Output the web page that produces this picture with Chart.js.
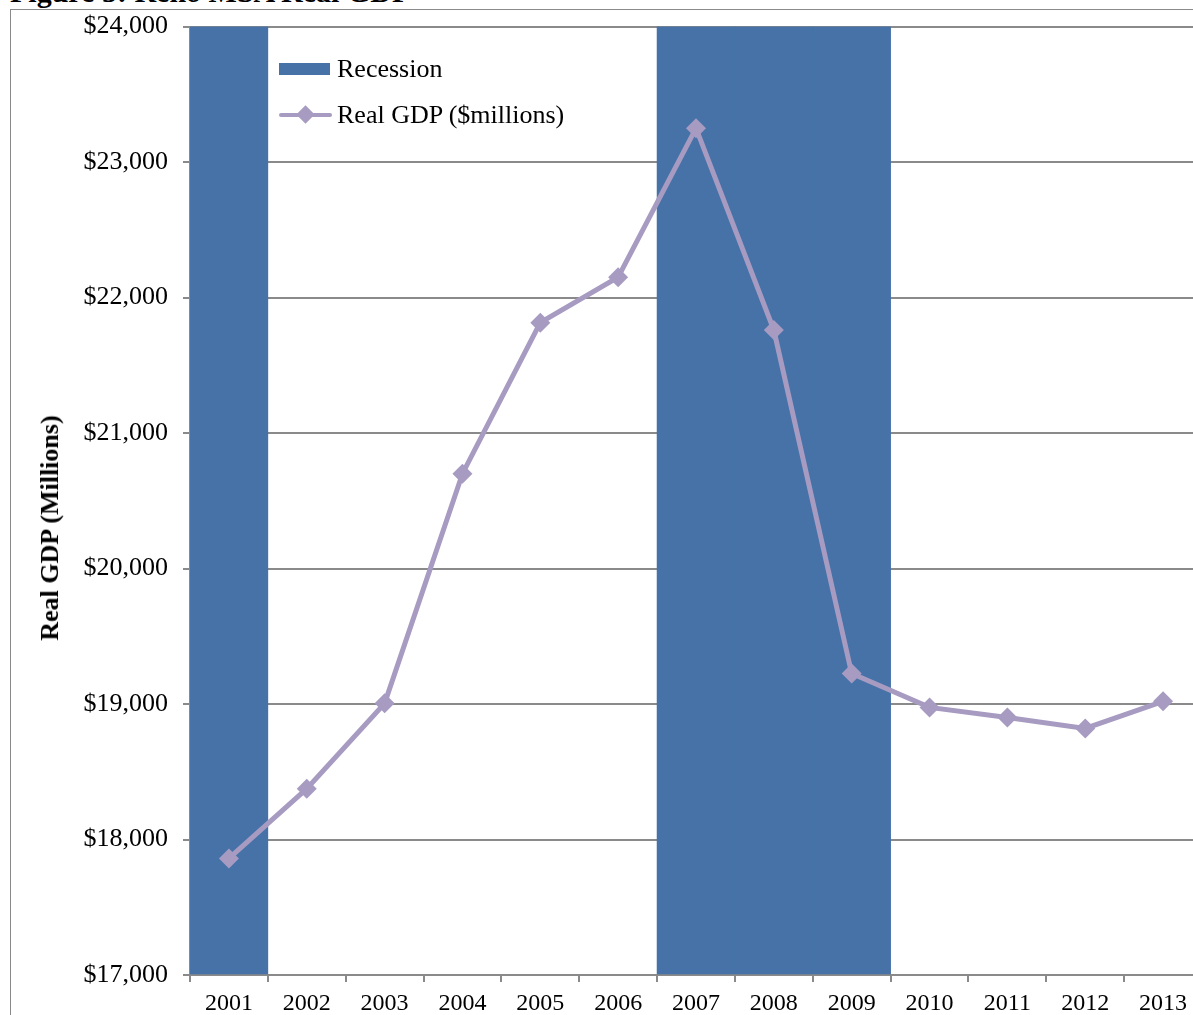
<!DOCTYPE html>
<html>
<head>
<meta charset="utf-8">
<script src="https://cdn.jsdelivr.net/npm/chart.js@4/dist/chart.umd.min.js"></script>
<style>
  html, body { margin:0; padding:0; background:#fff; overflow:hidden; }
  #wrap { position:relative; width:1193px; height:1015px; overflow:hidden; }
  #frame { position:absolute; left:10px; top:9px; width:1300px; height:1100px;
           border-left:1px solid #8a8a8a; border-top:1px solid #8a8a8a; }
  #fig-title { position:absolute; left:10px; top:-23px; font:bold 30px/30px "Liberation Serif","Times New Roman",serif;
               color:#000; white-space:nowrap; }
  #ytitle { position:absolute; left:50px; top:528px; transform:translate(-50%,-50%) rotate(-90deg);
            font:bold 26px "Liberation Serif","Times New Roman",serif; color:#000; white-space:nowrap; }
  #gdp-chart { position:absolute; left:0; top:-4px; }
  #legend { position:absolute; left:279px; top:46px; font:26px "Liberation Serif","Times New Roman",serif; color:#000; }
  .leg-row { height:46px; display:flex; align-items:center; white-space:nowrap; }
  .leg-sym { width:58px; height:46px; position:relative; flex:none; }
</style>
</head>
<body>
<div id="wrap">
  <div id="fig-title">Figure 5: Reno MSA Real GDP</div>
  <div id="frame"></div>
  <canvas id="gdp-chart" width="1212" height="1019"></canvas>
  <div id="ytitle">Real GDP (Millions)</div>
  <div id="legend"></div>
</div>
<script>
//----- chart data -----//
const years          = ['2001','2002','2003','2004','2005','2006','2007','2008','2009','2010','2011','2012','2013'];
const recessionBars  = [24000, null, null, null, null, null, 24000, 24000, 24000, null, null, null, null];
const realGdp        = [17860, 18375, 19005, 20700, 21815, 22150, 23250, 21760, 19225, 18975, 18900, 18820, 19020];
const recessionLabel = 'Recession';
const gdpLabel       = 'Real GDP ($millions)';

//----- colors -----//
const barColor  = '#4672a7';
const lineColor = '#a79bc2';
const gridColor = '#8a8a8a';

const serif = '"Liberation Serif", "Times New Roman", serif';

let canvas = document.getElementById('gdp-chart');

let gdpChart = new Chart(canvas, {
  type: 'bar',
  data: {
    labels: years,
    datasets: [
      {
        type: 'line',
        label: gdpLabel,
        data: realGdp,
        borderColor: lineColor,
        backgroundColor: lineColor,
        borderWidth: 5,
        tension: 0,
        pointStyle: 'rectRot',
        pointRadius: 10,
        pointBorderWidth: 0,
        pointBackgroundColor: lineColor,
        order: 0
      },
      {
        type: 'bar',
        label: recessionLabel,
        data: recessionBars,
        backgroundColor: barColor,
        borderWidth: 0,
        barPercentage: 1.0,
        categoryPercentage: 1.0,
        base: 17000,
        order: 1
      }
    ]
  },
  options: {
    responsive: false,
    animation: false,
    devicePixelRatio: 1,
    layout: { padding: { top: 22, right: 0, bottom: 0, left: 0 } },
    plugins: {
      legend: { display: false },
      tooltip: { enabled: false },
      title: { display: false }
    },
    scales: {
      x: {
        offset: true,
        grid: { offset: true, drawOnChartArea: false, drawTicks: true, tickLength: 7, color: gridColor, lineWidth: 2 },
        border: { display: true, color: gridColor, width: 2 },
        ticks: { color: '#000', padding: 7, maxRotation: 0, font: { family: serif, size: 24 } },
        afterFit: function(scale){ scale.height = 40; }
      },
      y: {
        min: 17000,
        max: 24000,
        grid: { color: gridColor, lineWidth: 2, tickLength: 7 },
        border: { display: true, color: gridColor, width: 2 },
        ticks: {
          stepSize: 1000,
          color: '#000',
          padding: 15,
          font: { family: serif, size: 26 },
          callback: function(v){ return '$' + Number(v).toLocaleString('en-US'); }
        },
        afterFit: function(scale){ scale.width = 190; }
      }
    }
  }
});

//----- html legend (inside the plot, top-left) -----//
let legendDiv = document.getElementById('legend');
let rows = '';
rows += '<div class="leg-row"><div class="leg-sym">'
      + '<div style="position:absolute;left:0;top:17px;width:51px;height:12px;background:'+barColor+'"></div>'
      + '</div><span>'+recessionLabel+'</span></div>';
rows += '<div class="leg-row"><div class="leg-sym">'
      + '<div style="position:absolute;left:0;top:21px;width:53px;height:4px;background:'+lineColor+';border-radius:2px"></div>'
      + '<div style="position:absolute;left:20px;top:16px;width:13px;height:13px;background:'+lineColor+';transform:rotate(45deg)"></div>'
      + '</div><span>'+gdpLabel+'</span></div>';
legendDiv.innerHTML = rows;
</script>
</body>
</html>
